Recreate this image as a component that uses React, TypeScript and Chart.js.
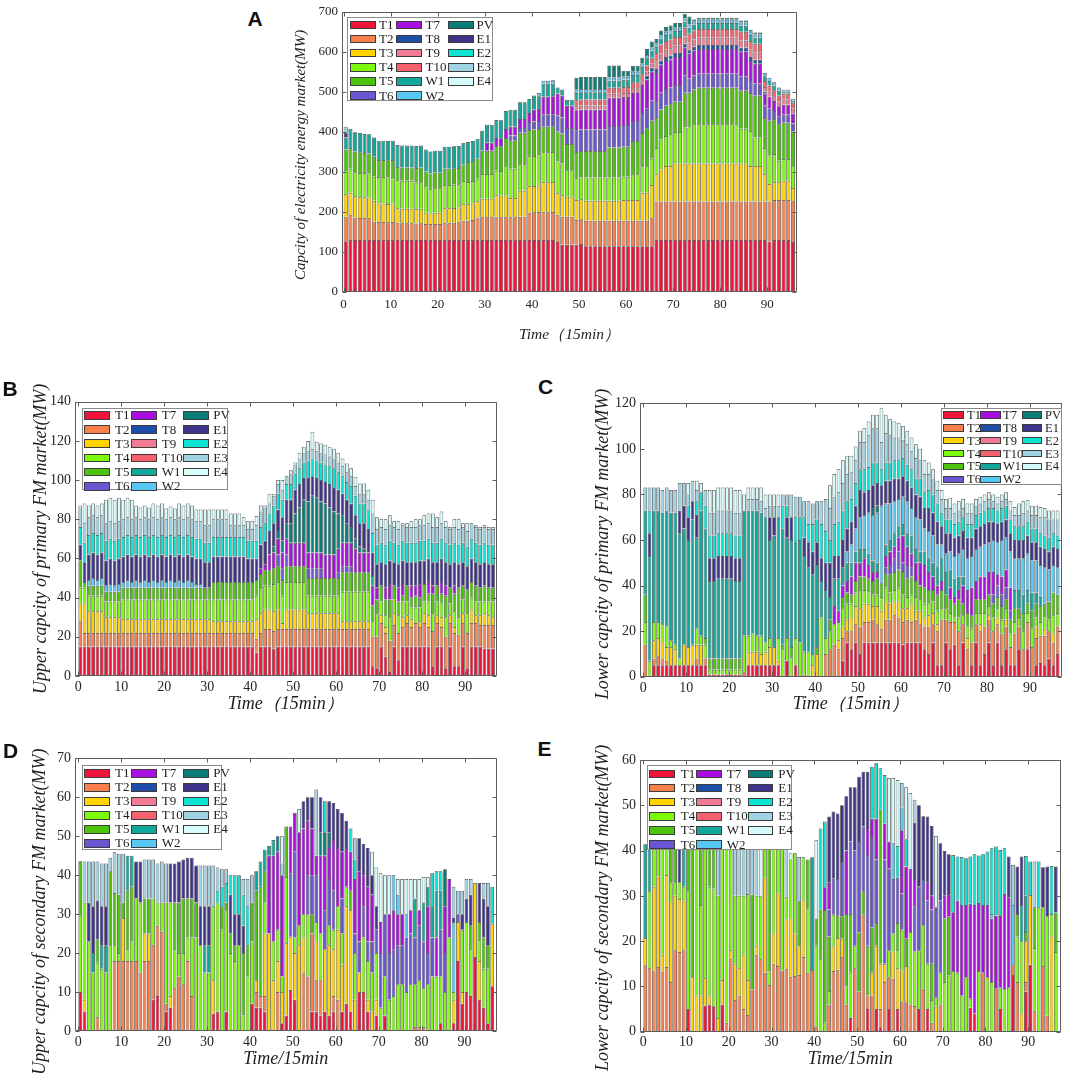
import { useEffect, useRef } from 'react';
import { Chart, registerables } from 'chart.js';

Chart.register(...registerables);

const SERIF = "'Liberation Serif', 'Times New Roman', serif";

const SERIES = ['T1', 'T2', 'T3', 'T4', 'T5', 'T6', 'T7', 'T8', 'T9', 'T10', 'W1', 'W2', 'PV', 'E1', 'E2', 'E3', 'E4'];

const COLORS: Record<string, string> = {
    T1: '#f0143a',
    T2: '#f7804c',
    T3: '#ffd400',
    T4: '#7df90c',
    T5: '#4cc40c',
    T6: '#6a55d2',
    T7: '#a80fe0',
    T8: '#1d4fa8',
    T9: '#f27a94',
    T10: '#f5626e',
    W1: '#12a99d',
    W2: '#56c8f3',
    PV: '#0a7d78',
    E1: '#3e348c',
    E2: '#0de3d3',
    E3: '#9fd3e3',
    E4: '#d6fbfb',
};

const X_TICKS = [0, 10, 20, 30, 40, 50, 60, 70, 80, 90];

// ---------- A: electricity energy market (96 periods) ----------
const A_T1 = [125,130,130,130,130,130,130,130,130,130,
    130,130,130,130,130,130,130,130,130,130,
    130,130,130,130,130,130,130,130,130,130,
    130,130,130,130,130,130,130,130,130,130,
    130,130,130,130,130,125,118,118,118,118,
    120,114,114,114,114,114,114,114,114,114,
    114,114,114,114,114,114,130,130,130,130,
    130,130,130,130,130,130,130,130,130,130,
    130,130,130,130,130,130,130,130,130,130,
    126,130,130,130,130,125];
const A_T2 = [63,62,56,55,55,54,46,45,45,44,
    45,43,42,42,42,41,42,40,40,40,
    40,42,42,43,44,48,48,50,56,57,
    57,57,58,57,57,57,57,58,58,68,
    69,70,69,69,70,68,70,70,70,62,
    62,64,64,64,64,64,64,64,64,64,
    64,64,64,64,64,70,96,96,96,96,
    96,96,96,96,96,96,96,96,96,96,
    96,96,96,96,96,96,96,96,96,96,
    100,100,100,100,100,102];
const A_T3 = [56,56,53,52,52,52,52,46,46,46,
    46,36,36,36,36,36,36,28,26,28,
    28,37,37,37,37,41,41,41,41,46,
    46,46,54,54,54,48,48,65,65,66,
    66,66,75,75,75,54,54,50,50,50,
    50,50,50,50,50,50,50,50,50,52,
    52,52,52,70,70,83,68,80,89,89,
    95,95,95,95,95,95,95,95,95,95,
    95,95,95,95,95,95,89,89,89,68,
    44,44,44,48,48,33];
const A_T4 = [60,60,60,60,60,60,60,66,66,66,
    66,70,70,70,70,66,66,66,61,61,
    61,58,58,58,58,58,56,56,56,62,
    62,62,61,61,73,73,73,66,66,75,
    75,75,75,75,75,79,79,66,66,54,
    54,58,58,58,58,58,58,58,58,58,
    58,64,64,66,66,66,66,75,75,79,
    79,79,90,90,98,98,98,98,98,98,
    98,98,98,98,87,87,87,71,71,66,
    71,71,54,54,54,54];
const A_T5 = [52,52,52,52,50,50,50,43,43,43,
    43,33,33,33,33,37,37,37,39,39,
    39,41,41,41,41,41,50,50,50,58,
    58,58,62,62,71,71,71,79,79,66,
    66,66,64,64,64,75,75,66,66,66,
    66,66,66,66,66,66,75,75,75,75,
    75,83,83,83,95,95,75,75,75,75,
    75,75,87,87,87,91,91,91,91,91,
    91,91,91,91,95,95,95,104,104,75,
    87,87,91,91,91,87];
const A_T6 = [0,0,0,0,0,0,0,0,0,0,
    0,0,0,0,0,0,0,0,0,0,
    0,0,0,0,0,0,0,0,0,0,
    0,0,0,0,0,12,12,12,12,20,
    20,20,30,30,30,40,40,40,40,54,
    54,54,54,54,54,54,54,54,54,54,
    54,50,50,50,50,50,42,42,42,42,
    42,42,42,35,35,35,35,35,35,35,
    35,35,35,35,35,35,30,30,30,30,
    30,20,20,20,20,20];
const A_T7 = [0,0,0,0,0,0,0,0,0,0,
    0,0,0,0,0,0,0,0,0,0,
    0,0,0,0,0,0,0,0,0,0,
    20,20,20,20,22,22,22,22,22,22,
    30,30,45,45,45,55,55,55,55,50,
    50,50,50,50,50,50,70,70,70,70,
    70,72,72,72,72,72,70,70,70,70,
    70,70,70,62,62,62,62,62,62,62,
    62,62,62,62,62,62,50,50,50,30,
    30,25,25,25,25,25];
const A_T8 = [0,0,0,0,0,0,0,0,0,0,
    0,0,0,0,0,0,0,0,0,0,
    0,0,0,0,0,0,0,0,0,0,
    0,0,0,0,0,0,0,0,0,0,
    0,0,0,0,0,0,0,0,0,0,
    0,0,0,0,0,0,0,0,0,0,
    0,0,0,0,10,10,10,10,10,10,
    10,10,10,10,10,10,10,10,10,10,
    10,10,10,10,10,10,10,10,10,5,
    0,0,0,0,0,0];
const A_T9 = [0,0,0,0,0,0,0,0,0,0,
    0,0,0,0,0,0,0,0,0,0,
    0,0,0,0,0,0,0,0,0,0,
    0,0,0,0,0,0,0,0,0,0,
    0,0,0,0,0,0,0,0,0,10,
    10,10,10,10,10,10,10,10,10,10,
    10,10,10,10,10,10,18,18,18,18,
    18,18,18,18,18,18,18,18,18,18,
    18,18,18,18,18,18,18,18,18,12,
    12,12,12,12,12,12];
const A_T10 = [0,0,0,0,0,0,0,0,0,0,
    0,0,0,0,0,0,0,0,0,0,
    0,0,0,0,0,0,0,0,0,0,
    0,0,0,0,0,0,0,0,0,0,
    0,0,0,0,0,0,0,0,0,15,
    15,15,15,15,15,15,15,15,15,15,
    15,15,15,15,15,15,22,22,22,22,
    22,22,22,22,22,22,22,22,22,22,
    22,22,22,22,22,22,22,22,22,15,
    15,15,15,15,15,15];
const A_W1 = [30,48,48,48,48,48,48,48,48,48,
    48,55,55,55,55,55,55,55,55,55,
    55,55,55,55,55,55,50,50,50,50,
    45,45,45,45,45,42,42,42,42,35,
    35,32,32,32,32,15,15,15,15,18,
    18,18,18,18,18,18,18,18,18,18,
    18,18,18,18,18,18,15,15,15,15,
    15,15,15,15,15,15,15,15,15,15,
    15,15,15,15,15,15,15,15,15,12,
    12,12,12,5,5,5];
const A_W2 = [0,0,0,0,0,0,0,0,0,0,
    0,0,0,0,0,0,0,0,0,0,
    0,0,0,0,0,0,0,0,0,0,
    0,0,0,0,0,0,0,0,0,0,
    0,8,8,8,8,0,0,0,0,8,
    8,8,8,8,8,8,8,8,8,8,
    8,8,8,8,8,8,8,8,8,8,
    8,8,8,8,8,8,8,8,8,8,
    8,8,8,8,8,8,8,8,8,8,
    8,8,8,5,5,5];
const A_PV = [0,0,0,0,0,0,0,0,0,0,
    0,0,0,0,0,0,0,0,0,0,
    0,0,0,0,0,0,0,0,0,0,
    0,0,0,0,0,0,0,0,0,0,
    0,0,0,0,0,0,0,0,0,30,
    30,30,30,30,30,30,30,30,30,15,
    15,15,15,15,15,15,12,12,12,12,
    12,12,12,20,5,5,5,5,5,5,
    5,5,5,5,5,5,5,5,5,0,
    0,0,0,0,0,0];
const A_E1 = [12,0,0,0,0,0,0,0,0,0,
    0,0,0,0,0,0,0,0,0,0,
    0,0,0,0,0,0,0,0,0,0,
    0,0,0,0,0,0,0,0,0,0,
    0,0,0,0,0,0,0,0,0,0,
    0,0,0,0,0,0,0,0,0,0,
    0,0,0,0,0,0,0,0,0,0,
    0,0,0,0,0,0,0,0,0,0,
    0,0,0,0,0,0,0,0,0,0,
    0,0,0,0,0,0];
const A_E3 = [15,0,0,0,0,0,0,0,0,0,
    0,0,0,0,0,0,0,0,0,0,
    0,0,0,0,0,0,0,0,0,0,
    0,0,0,0,0,0,0,0,0,0,
    0,0,0,0,0,0,0,0,0,0,
    0,0,0,0,0,0,0,0,0,0,
    0,0,0,0,0,0,0,0,0,0,
    0,0,0,0,0,0,0,0,0,0,
    0,0,0,0,0,0,0,0,0,0,
    0,0,0,0,0,0];

// ---------- B: upper capacity, primary FM market (97 periods) ----------
const B_T1 = [15,15,15,15,15,15,15,15,15,15,
    15,15,15,15,15,15,15,15,15,15,
    15,15,15,15,15,15,15,15,15,15,
    15,15,15,15,15,15,15,15,15,15,
    15,12,15,15,15,14,15,15,15,15,
    15,15,15,15,15,15,15,15,15,15,
    15,15,15,15,15,15,15,15,5,4,
    15,10,2,15,8,15,15,15,15,15,
    15,15,5,15,15,4,15,5,5,15,
    4,15,15,15,14,14,14];
const B_T2 = [13,7,7,7,7,7,7,7,7,7,
    7,7,7,7,7,7,7,7,7,7,
    7,7,7,7,7,7,7,7,7,7,
    7,7,7,7,7,7,7,7,7,7,
    7,7,7,9,9,9,9,9,9,9,
    9,9,9,9,9,9,9,9,9,9,
    9,9,9,9,9,9,9,9,15,16,
    12,12,16,11,14,10,12,10,12,10,
    12,10,18,12,10,16,12,17,16,12,
    18,12,12,11,12,12,12];
const B_T3 = [9,15,11,11,11,11,8,8,8,8,
    7,7,7,7,7,7,7,7,7,7,
    7,7,7,7,7,7,7,7,7,7,
    7,6,6,6,6,6,6,6,6,6,
    6,10,10,10,10,10,10,3,10,10,
    10,10,10,8,8,8,8,8,8,8,
    8,4,4,4,4,4,4,4,0,0,
    4,3,0,6,0,5,4,4,0,3,
    5,6,0,4,5,0,4,3,0,5,
    0,7,4,5,6,5,4];
const B_T4 = [8,8,8,8,8,8,8,8,8,8,
    10,10,10,10,10,10,10,10,10,10,
    10,10,10,10,10,10,10,10,10,10,
    10,11,11,11,11,11,11,11,11,11,
    11,12,12,12,12,14,14,14,14,14,
    14,14,14,9,9,9,9,9,9,9,
    9,15,15,15,15,15,15,15,8,12,
    7,6,12,7,9,8,7,6,8,7,
    6,7,9,7,7,10,6,8,9,7,
    10,6,7,7,6,7,8];
const B_T5 = [14,3,5,5,5,5,5,5,5,5,
    6,6,6,6,6,6,6,6,6,6,
    6,6,6,6,6,6,6,6,6,6,
    6,9,9,9,9,9,9,9,9,9,
    9,8,8,8,8,8,8,8,8,8,
    8,8,8,9,9,9,9,9,9,9,
    9,10,10,10,10,10,10,10,8,7,
    8,8,9,7,7,3,8,5,6,5,
    9,4,10,8,5,11,8,9,15,7,
    12,8,8,7,8,7,7];
const B_T6 = [0,0,0,0,0,0,0,0,0,0,
    0,0,0,0,0,0,0,0,0,0,
    0,0,0,0,0,0,0,0,0,0,
    0,0,0,0,0,0,0,0,0,0,
    0,0,0,0,0,0,6,6,6,0,
    0,0,0,5,5,5,5,0,0,0,
    3,3,3,3,0,0,0,0,0,0,
    0,0,0,0,0,0,0,0,0,0,
    0,0,0,0,0,0,0,0,0,0,
    0,0,0,0,0,0,0];
const B_T7 = [0,0,0,0,0,0,0,0,0,0,
    0,0,0,0,0,0,0,0,0,0,
    0,0,0,0,0,0,0,0,0,0,
    0,0,0,0,0,0,0,0,0,0,
    0,0,3,3,8,8,8,8,8,12,
    12,12,12,8,8,8,8,12,12,12,
    12,12,12,12,12,10,10,10,10,6,
    0,6,8,0,7,6,0,6,5,7,
    0,6,4,0,6,5,0,4,0,0,
    0,0,0,0,0,0,0];
const B_W1 = [0,0,0,0,0,0,0,0,0,0,
    0,0,0,0,0,0,0,0,0,0,
    0,0,0,0,0,0,0,0,0,0,
    0,0,0,0,0,0,0,0,0,0,
    0,0,0,0,0,0,0,0,0,0,
    0,0,0,0,0,0,0,0,0,0,
    0,0,0,0,0,0,0,0,5,0,
    0,0,0,0,0,0,0,0,0,0,
    0,0,0,0,0,0,0,0,0,0,
    0,0,0,0,0,0,0];
const B_W2 = [0,0,3,4,3,4,3,4,3,4,
    3,4,3,4,3,4,3,4,3,4,
    3,4,3,4,3,4,3,2,2,0,
    0,0,0,0,0,0,0,0,0,0,
    0,0,0,0,0,0,0,0,0,0,
    0,0,0,0,0,0,0,0,0,0,
    0,0,0,0,0,0,0,0,0,0,
    0,0,0,0,0,0,0,0,0,0,
    0,0,0,0,0,0,0,0,0,0,
    0,0,0,0,0,0,0];
const B_PV = [0,0,0,0,0,0,0,0,0,0,
    0,0,0,0,0,0,0,0,0,0,
    0,0,0,0,0,0,0,0,0,0,
    0,0,0,0,0,0,0,0,0,0,
    0,0,0,0,0,3,4,6,8,10,
    15,18,22,26,29,28,26,26,24,22,
    18,14,10,8,5,3,2,0,0,0,
    0,0,0,0,0,0,0,0,0,0,
    0,0,0,0,0,0,0,0,0,0,
    0,0,0,0,0,0,0];
const B_E1 = [8,10,13,13,13,13,13,13,13,13,
    13,13,13,13,13,13,13,13,13,13,
    13,13,13,13,13,13,13,13,13,13,
    13,13,13,13,13,13,13,13,13,12,
    12,11,12,12,12,12,11,12,12,12,
    12,12,11,12,10,10,11,11,12,12,
    12,11,12,12,12,12,13,12,12,12,
    12,12,12,12,12,12,12,12,12,12,
    12,12,12,12,12,12,12,12,12,12,
    12,12,12,12,12,12,12];
const B_E2 = [9,10,10,10,10,10,10,10,10,10,
    10,10,10,10,10,10,10,10,10,10,
    10,10,10,10,10,10,10,10,10,10,
    10,10,10,10,10,10,10,10,10,9,
    9,9,9,9,9,9,8,9,8,8,
    8,8,8,9,9,9,9,9,9,10,
    9,9,9,9,10,10,10,10,10,10,
    10,10,10,10,10,10,10,10,10,10,
    10,10,10,10,10,10,10,10,10,10,
    10,10,10,10,10,10,10];
const B_E3 = [10,10,9,9,9,9,9,9,9,9,
    9,9,9,9,9,9,9,9,9,9,
    9,9,9,9,9,9,9,9,9,9,
    9,9,9,9,9,6,6,6,6,6,
    6,8,8,8,5,5,5,5,4,5,
    5,5,5,5,5,5,5,5,5,5,
    5,5,5,5,5,5,5,5,10,8,
    8,8,8,8,8,8,8,8,8,8,
    8,8,8,8,8,8,8,8,8,8,
    8,8,8,8,8,8,8];
const B_E4 = [1,10,6,6,6,6,12,12,12,12,
    10,10,10,6,6,6,6,7,7,7,
    5.5,5.5,5.5,7,7,7,7,6,6,8,
    8,5,5,5,5,6,6,6,4,4,
    4,4.6,3,1,5,1,2,5,0,2,
    1,3,3,5,8.7,4.6,4.7,5,5,5,
    5,4,4.5,4,4.7,5.3,5.3,5,7,6,
    4,5,5,3,4,1,2,3,4,3,
    5,5,7,5,6,3,1,4,5,2,
    4,0,1,1,1,1,1];

// ---------- C: lower capacity, primary FM market ----------
const C_T1 = [0,0,5,5,5,5,5,5,5,5,
    5,5,5,5,5,1,1,1,1,1,
    1,1,1,0,5,5,5,5,5,5,
    5,5,0,7,0,5,0,0,0,0,
    0,0,0,0,0,0,7,15,12,15,
    10,15,15,15,15,15,15,15,15,15,
    14,15,15,15,15,12,10,15,5,5,
    15,12,14,5,15,0,5,15,5,10,
    15,5,15,5,12,5,5,12,0,12,
    0,5,6,5,8,5,10];
const C_T2 = [14,0,3,4,3,2,0,0,0,0,
    0,0,3,0,3,0,0,0,0,0,
    0,0,0,2,0,0,0,0,0,0,
    0,0,0,0,0,0,0,1,0,0,
    0,0,10,12,14,12,10,5,8,8,
    12,9,9,10,8,6,10,10,12,11,
    10,10,9,10,8,10,12,8,15,20,
    10,12,10,15,8,12,10,8,15,12,
    10,15,8,14,10,8,14,10,12,12,
    13,12,12,13,12,10,12];
const C_T3 = [0,0,8,8,7,6,8,7,0,9,
    8,9,6,9,0,0,0,0,0,0,
    0,0,0,0,6,6,6,5,6,8,
    8,2,0,0,0,0,0,0,0,5,
    10,0,0,0,0,4,5,5,6,8,
    8,8,8,6,8,8,8,7,6,7,
    6,5,8,4,6,4,5,5,3,0,
    0,0,0,0,0,5,0,0,3,0,
    2,0,3,0,3,0,0,0,0,0,
    0,5,0,3,0,4,0];
const C_T4 = [10,7,8,7,8,9,3,2,3,0,
    0,0,7,4,6,2,2,2,2,2,
    2,2,2,16,7,8,7,8,4,4,
    0,10,12,10,8,12,15,10,11,5,
    0,26,7,8,9,8,8,7,6,6,
    8,6,5,5,5,6,6,5,5,6,
    6,5,4,6,5,6,5,5,6,5,
    5,4,2,6,4,5,6,5,5,6,
    4,6,4,6,4,6,5,3,8,4,
    8,4,6,5,5,8,6];
const C_T5 = [12,0,0,0,0,0,0,0,0,0,
    0,0,0,0,3,5,5,5,5,5,
    5,5,5,0,0,0,0,0,0,0,
    0,0,2,0,5,0,0,0,0,0,
    3,0,0,5,0,0,5,5,4,5,
    6,6,6,6,7,6,6,8,8,8,
    10,8,8,7,6,7,6,5,7,8,
    6,6,6,8,5,6,6,6,6,6,
    5,6,5,6,5,6,6,5,8,4,
    8,6,7,6,8,10,8];
const C_T6 = [0,0,0,0,0,0,0,0,0,0,
    0,0,0,0,0,0,0,0,0,0,
    0,0,0,0,0,0,0,0,0,0,
    0,0,0,0,0,0,0,0,0,0,
    0,0,0,0,0,0,0,0,0,0,
    0,0,0,0,0,0,3,4,6,8,
    4,6,4,0,0,0,0,0,0,0,
    0,0,0,0,0,0,0,0,0,0,
    0,4,5,5,5,4,0,0,0,0,
    0,0,0,0,0,0,0];
const C_T7 = [0,0,0,0,0,0,0,0,0,0,
    0,0,0,0,0,0,0,0,0,0,
    0,0,0,0,0,0,0,0,0,0,
    0,0,0,0,0,0,0,0,0,0,
    0,0,0,0,8,5,5,5,8,8,
    6,8,6,4,3,0,5,6,5,6,
    12,8,6,8,10,10,8,6,4,4,
    0,5,3,4,8,10,12,8,10,10,
    10,10,5,8,8,10,0,0,0,0,
    0,0,0,0,0,0,0];
const C_W1 = [37,46,49,49,49,51,56,58,55,51,
    47,55,40,55,48,34,34,35,35,35,
    35,34,34,55,55,54,55,54,55,43,
    49,53,51,44,47,42,45,42,37,35,
    36,16,21,10,12,14,8,8,6,5,
    6,4,5,5,4,0,5,5,6,5,
    5,6,8,6,5,6,6,6,8,10,
    10,8,8,6,4,0,0,0,0,0,
    0,0,0,0,0,0,8,8,8,6,
    8,5,4,0,0,0,0];
const C_W2 = [0,0,0,0,0,0,0,0,0,0,
    0,0,0,0,0,0,0,0,0,0,
    0,0,0,0,0,0,0,0,0,0,
    0,0,0,0,0,0,0,0,0,0,
    0,0,0,0,0,0,0,5,8,10,
    14,15,18,20,22,34,18,16,14,12,
    12,14,12,14,14,10,12,12,10,6,
    8,8,10,10,12,14,14,14,13,14,
    13,14,14,16,14,16,14,14,16,16,
    14,14,14,16,14,12,12];
const C_PV = [0,0,0,0,0,0,0,0,0,0,
    0,0,0,0,0,0,0,0,0,0,
    0,0,0,0,0,0,0,0,0,0,
    0,0,0,0,0,0,0,0,0,0,
    0,0,0,0,0,0,0,0,0,0,
    0,0,0,3,3,0,0,0,0,0,
    0,0,0,0,0,0,0,0,0,0,
    0,0,0,0,0,0,0,0,0,0,
    0,0,0,0,0,0,0,0,0,0,
    0,0,0,0,0,0,0];
const C_E1 = [0,10,0,0,0,0,0,0,10,10,
    10,8,10,0,0,10,10,10,10,10,
    10,10,10,0,0,0,0,0,0,10,
    8,0,0,9,10,0,0,8,11,10,
    10,10,12,15,10,10,12,10,10,10,
    12,10,10,10,10,9,10,10,10,9,
    9,9,9,10,10,9,10,10,10,8,
    9,8,8,8,8,9,8,9,9,9,
    9,8,8,8,8,8,8,8,8,8,
    8,8,8,8,8,8,8];
const C_E2 = [0,10,0,0,0,0,0,0,0,0,
    5,0,6,8,10,10,10,10,10,10,
    10,10,10,0,0,0,0,0,0,0,
    0,0,10,5,0,11,10,9,8,12,
    10,15,14,10,14,15,13,12,10,10,
    9,10,10,10,9,7,8,8,8,8,
    8,7,8,7,8,7,8,8,8,6,
    6,6,6,6,6,6,6,6,6,6,
    6,6,6,6,6,6,6,6,6,6,
    6,6,6,6,6,6,6];
const C_E3 = [10,10,10,10,10,10,10,10,12,10,
    5,9,5,0,7,10,10,10,10,10,
    10,10,10,0,5,5,5,5,4,5,
    5,5,5,5,10,9,9,7,10,9,
    8,10,14,14,12,13,12,12,12,10,
    12,12,14,15,15,12,13,12,10,10,
    8,9,8,9,8,8,7,7,6,6,
    5,5,5,5,4,5,5,4,4,4,
    4,3,3,3,3,4,5,5,6,5,
    6,6,7,8,8,6,7];
const C_E4 = [0,0,0,0,0,0,0,0,0,0,
    5,0,4,4,0,10,10,10,10,10,
    10,10,10,7,5,5,5,6,6,5,
    5,5,0,0,0,0,0,0,0,0,
    0,0,0,10,10,10,10,8,7,6,
    5,6,6,6,6,15,8,7,7,6.5,
    6,6,6,6,5,6,5,4,4,4,
    4,4.5,4,4,4,4,4,3,3,3,
    3,3,3,3,3,4,3.5,5,5,4.5,
    4,4,4.5,4,4,4,4];

// ---------- D: upper capacity, secondary FM market ----------
const D_T1 = [10,5,0,0,0,0,0,0,0,0,
    0,0,0,0,0,0,0,8,9,0,
    5,6,0,0,0,0,0,0,0,0,
    0,4.5,5,0,5,0,0,0,0,0,
    7,6,6,5,0,0,0,2,4,10.5,
    8,0,0,0,5,5,4,5,4,5,
    0,5,7,5,0,10,10,5,0,4,
    0,4,0,0,0,0,0,0,0,0,
    0,0,0,0,2,0,0,2,18,7,
    10,9,19,8,6,2,11.5];
const D_T2 = [0,0,0,0,3.5,0,0,0,18,18,
    18,18,18,18,15,18,18,14,18,25.5,
    2,0,11,14,12,18,9,0,0,0,
    0,0,0,0,0,0,0,0,0,0,
    0,4,3,4,0,0,10,0,0,0,
    0,0,15,14,20,8,9,0,0,4,
    8,0,0,0,0,0,0,0,0,0,
    0,0,0,0,0,0,0,0,1,1,
    1,0,0,0,0,0,0,0,0,0,
    0,0,0,0,0,0,0];
const D_T3 = [0,3,0,0,0,0,0,0,0,0,
    11,0,0,0,0,7,7,0,0,0,
    0,3,0,0,0,0,0,0,0,0,
    0,8.5,0,0,0,0,0,0,0,0,
    0,3,0,16,25,13,8,8,18.5,13.7,
    12,22,9,0,0,10,0,16,18,12,
    18,12,25,26,8,5,0,3,5,4,
    0,0,0,0,0,0,0,0,0,0,
    0,0,0,0,0,0,0,6,10,3,
    0,0,19,10,0,0,16];
const D_T4 = [19.6,25,23,15,14,16,15,22,4,2,
    0,3,5,16,18,0,0,12,6,7.5,
    26,24,10,6,8,6,15,24,22,15,
    15,19,28,26,26,20,18,22,4,14,
    16,0,0,8,0,10,8,4,17,0,
    4,5,6,16,0,5,12,0,5,5,
    6,8,5,0,12,0,14,10,10,12,
    6,10,8,9,12,12,10,12,11,12,
    10,12,14,14,12,10,24,2,0,16,
    18,12,0,5,10,14,0];
const D_T5 = [14,0,0,0,6,0,0,19,13.4,15,
    4,15,14,0,0,9,9,0,0,0,
    0,0,12,13,14,10,10,9,0,0,
    0,0,0,6,2,5,4,0,16,8,
    10,23,28,8,0,0,0,0,13,0,
    0,0,0,0,5,0,0,0,0,0,
    0,0,0,5,0,0,0,0,0,0,
    0,0,0,0,0,0,0,0,0,0,
    0,0,0,0,0,0,0,0,0,0,
    0,6,0,5,8,6,0];
const D_T6 = [0,0,0,0,0,0,0,0,0,0,
    0,0,0,0,0,0,0,0,0,0,
    0,0,0,0,0,0,0,0,0,0,
    0,0,0,0,0,0,0,0,0,0,
    0,0,0,0,0,0,0,0,0,16.3,
    22,0,0,10,10,12,0,10,12,10,
    0,9,0,0,5,8,8,5,8,6,
    14,16,12,12,10,10,14,13,12,14,
    12,8,10,0,12,10,0,0,2,0,
    0,0,0,0,0,0,0];
const D_T7 = [0,0,0,0,0,0,0,0,0,0,
    0,0,0,0,0,0,0,0,0,0,
    0,0,0,0,0,0,0,0,0,0,
    0,0,0,0,0,0,0,0,0,0,
    0,0,0,0,20,22,20,26,0,12,
    10,24,22,14,12,5,20,14,8,13,
    15,12,10,10,14,18,8,14,12,0,
    8,0,10,10,8,8,0,6,0,4,
    0,12,0,10,0,12,15,0,0,0,
    0,0,0,0,0,0,0];
const D_W1 = [0,0,0,5,0,6,7,0,0,0,
    0,9,8,0,0,0,0,0,0,0,
    0,0,0,0,0,0,0,0,0,7,
    7,0,0,0,0,0,0,0,0,0,
    0,5,6.5,5.5,2.5,4,0,0,0,0,
    0,0,0,0,0,0,0,0,0,0,
    0,0,0,0,0,0,0,0,0,0,
    0,0,0,0,0,0,0,0,10,0,
    10,5,8,12,10,0,0,0,0,0,
    0,0,0,0,0,0,0];
const D_W2 = [0,0,0,0,0,0,0,0,0,0,
    0,0,0,0,0,0,0,0,0,0,
    0,0,0,0,0,0,0,0,0,0,
    0,0,0,0,0,0,0,0,0,0,
    0,0,0,0,0,0,0,0,0,0,
    0,0,0,0,0,0,0,0,0,0,
    0,0,0,0,0,0,0,0,0,0,
    0,0,0,9,5,0,6,0,0,0,
    0,0,0,0,0,0,0,18,0,0,
    0,0,0,0,0,0,0];
const D_PV = [0,0,0,0,0,0,0,0,0,0,
    0,0,0,0,0,0,0,0,0,0,
    0,0,0,0,0,0,0,0,0,0,
    0,0,0,0,0,0,0,0,0,0,
    0,0,0,0,0,0,4,0,0,0,
    0,0,0,0,0,0,6,6,4,0,
    0,0,0,0,0,0,0,0,0,0,
    0,0,0,0,0,0,0,0,0,0,
    0,0,0,0,0,9.5,0,0,0,0,
    0,0,0,0,0,0,0];
const D_E1 = [0,0,10,12,10,10,10,0,0,0,
    0,0,0,9.5,10.5,0,0,0,0,0,
    0,10,10,10.5,10,10.5,10.5,9.5,10,10,
    10,0,0,0,0,10,8,8,7,0,
    0,0,0,0,0,0,0,0,0,0,
    0,0,7,6,8,0,9,0,8,9.5,
    10,10,7,0,0,8.5,8,10,5,6,
    0,0,0,0,0,0,0,0,0,0,
    0,0,0,0,0,0,0,1,0,4,
    6,8,0,10,10,10,0];
const D_E2 = [0,0,0,0,0,0,0,0,0,0,
    0,0,0,0,0,0,0,0,0,0,
    0,0,0,0,0,0,0,0,0,0,
    0,0,3,5,5,5,10,10,8,10,
    0,0,0,0,0,0,0,0,0,0,
    0,0,0,0,0,0,0,8,0,0,
    0,0,0,6,5,0,0,0,0,0,
    0,0,0,0,0,0,0,0,0,0,
    0,0,8.5,5,5,0,0,0,0,0,
    0,0,0,0,0,0,9.5];
const D_E3 = [0,10.5,10.5,11.5,10,11,11,3.5,10.5,10.5,
    12.5,0,0,0,0,10,10,10,10,10.5,
    10,0,0,0,0,0,0,0,10.5,10.5,
    10.5,10.5,6,4.5,3.5,0,0,0,4,7,
    7,0,0,0,0,0,0,3,0,0,
    0,0,0,0,0,17,0,0,0,0,
    0,0,0,0,5.5,0,0,0,0,0,
    0,0,0,0,0,0,0,0,0,0,
    0,0,0,0,0,0,0,8,6,6,
    5,4,0,0,4,6,0];
const D_E4 = [0,0,0,0,0,0,0,0,0,0,
    0,0,0,0,0,0,0,0,0,0,
    0,0,0,0,0,0,0,0,0,0,
    0,0,0,0,0,0,0,0,0,0,
    0,0,0,0,0,0,0,7,0,0,
    0,6,0,0,0,0,0,0,0,0,
    0,0,0,0,0,0,0,0,6,10,
    12.5,10,10,0,4,9,9,8,5,8,
    6.5,2.5,0,0,0,0,0,0,0,0,
    0,0,0,0,0,0,0];

// ---------- E: lower capacity, secondary FM market ----------
const E_T1 = [0,0,0,0,0,0,0,0,0,0,
    5,0,0,0,5.8,6,5.6,0,6,0,
    0,0,0,0,0,0,0,0,0,0,
    0,0,0,0,0,0,0,0,0,0,
    0,0,0,0,0,0,0,0,3,0,
    0,0,5,0,5,1,0,5,0,5,
    0,0,0,0,5,0,5,0,0,0,
    0,0,0,0,0,0,5.3,4,0,0,
    0,0,0,5,0,0,12.5,0,0,8.8,
    14.8,0,0,0,0,0,0];
const E_T2 = [14.7,14,13.5,14.3,13.3,14.3,11,18,17.6,18,
    0,0,0,0,0,0,0,0,0,2,
    16,7,8,5,3.7,9.3,17,16,13,10.3,
    15,14.5,13.5,13.8,12,12.3,12.5,16.5,13,13.6,
    1,0,0,6,13.4,13.7,16.5,6,0,14,
    8.9,25.8,3,8,0,4,11,7,11.7,0,
    6.5,6.5,6,5.7,0,9.5,0,2,0,6,
    0,0,0,0,0,0,0,0,0,13,
    0,0,9.6,0,0,0,2.2,11,0,2.2,
    0,4.5,0,14.5,3.5,0,0];
const E_T3 = [6,0,18.5,20,3.7,20.3,17.7,12,11.7,11,
    0,12,8,8,6,2,0,3,5.4,0,
    2,8,6,12,7.7,0,2,0,21,0,
    6.7,16,0,11,13,9.4,6.3,12.5,0,0,
    0,0,0,0,5.4,7,4,0,0,0,
    0,0,0,5,14,10,4,0,6,9,
    7,8,0,0,0,0,0,0,5.5,0,
    0,0,0,0,0,0,0,0,0,0,
    0,0,0,0,0,0,0,0,4,9,
    15.4,0,0,0,0,21,0];
const E_T4 = [0,17,10,8,25,8,4.3,3,3.7,3,
    26,0,34,20,30,24,26,27,31,40,
    24,15,16,13,19,0,11,14,8,3,
    20,11.5,28.5,5,13,17.7,0,9.5,14,0,
    18,16,2,3,7,0,0,4,10,5,
    0,0,0,0,0,0,0,6,4,4,
    9,0,16,12,13,14,10,5,2,7,
    11,12.4,13.4,13,8,12,2,0,13.4,0,
    12,11,0,4.7,9.4,9.7,0,10,16,0,
    0,14,27.5,13,22,5,17.6];
const E_T5 = [0,0,0,0,0,0,9,9,0,0,
    11,30,0,14,0,10,10,0,0,0,
    0,0,0,0,0,21,0,0,0,28.7,
    0,0,0,0,0,0,10,0,11,0,
    6,11,24.9,12,0,5,5,16,13,0,
    13,5.2,11,10,5,34,0,0,0,6,
    0,6,0,0,0,0,0,8,0,0,
    14,13,0,0,0,0,0,0,0,0,
    0,0,0,0,0,0,0,5,0,2,
    0,9,0,0,0,0,8.7];
const E_T6 = [0,0,0,0,0,0,0,0,0,0,
    0,0,0,0,0,0,0,0,0,0,
    0,0,0,0,0,0,0,0,0,0,
    0,0,0,0,0,0,0,0,0,0,
    0,0,0,6,8,8,12,0,16,21,
    20,14.3,20,20,14,0,23,18,12,10,
    8,0,0,10,14,10,14,12,20,16,
    0,0,0,0,0,0,0,0,0,0,
    0,0,0,0,0,0,0,0,0,0,
    0,0,0,0,0,0,0];
const E_T7 = [0,0,0,0,0,0,0,0,0,0,
    0,0,0,0,0,0,0,0,0,0,
    0,0,0,0,0,0,0,0,0,0,
    0,0,0,0,0,0,0,0,0,0,
    0,0,5,6,0,0,0,14,0,0,
    0,0,6,4,9,0,8,6,0,0,
    14,16,14,6,0,0,4,3,0,0,
    5,5,13,16,20,16,21,24,15,15,
    16,14,16,16,21,20,0,0,0,0,
    0,0,0,0,0,0,0];
const E_W1 = [20.7,11,0,0,0,0,0,0,0,10,
    0,0,0,0,0,0,0,0,0,0,
    0,0,0,0,0,0,0,0,0,0,
    0,0,0,0,0,0,0,0,0,24.9,
    0,0,0,0,0,0,0,0,0,0,
    0,0,0,0,0,0,0,0,0,0,
    0,0,0,0,0,0,0,0,0,0,
    0,0,0,0,0,0,0,0,0,0,
    0,0,0,0,0,0,0,0,8,8,
    0,0,0,0,0,0,0];
const E_W2 = [0,0,0,0,0,0,0,0,0,0,
    0,0,0,0,0,0,0,0,0,0,
    0,0,0,0,0,0,0,0,0,0,
    0,0,0,0,0,0,0,0,0,0,
    0,0,0,0,0,0,0,0,0,0,
    0,0,0,0,0,0,0,0,8,0,
    5,0,0,0,0,0,0,0,0,0,
    0,0,0,0,0,0,0,0,0,0,
    0,1,0,0,0,0,13.3,0,0,0,
    0,0,0,0,0,0,0];
const E_E1 = [0,0,0,0,0,0,0,0,9,0,
    0,0,0,0,0,0,0,0,0,0,
    0,0,0,0,0,0,0,0,0,0,
    0,0,0,0,0,0,0,0,0,0,
    0,0,0,14.5,14.8,14.5,12.5,12,12,14,
    14.4,12.1,12.4,0,0,0,0,0,0,0,
    0,0,0,12.5,18,14.1,14.5,15.4,0,12.6,
    9.9,8.8,0,0,0,0,0,0,0,0,
    0,0,0,0,0,9,0,10.5,10.7,0,
    0,0,0,8.8,11,0,10.2];
const E_E2 = [0,0,0,0,0,0,0,0,0,0,
    0,0,0,0,0,0,0,0,0,0,
    0,0,0,0,0,0,0,0,0,0,
    0,0,0,0,0,0,0,0,0,0,
    0,17.9,14.5,0,0,0,0,0,0,0,
    0,0,0,11.5,12.3,9.2,10.7,0,0,7,
    0,6,0,0,0,0,0,0,0,0,
    0,0,12.6,9.7,10.6,10.3,10.4,11.2,10.5,11.2,
    11.8,14.5,15.3,14.4,10.1,0,0,0,0,8.8,
    7.4,0,10.1,0,0,10.6,0];
const E_E3 = [0,0,0,0,0,0,0,0,0,0,
    0,0,0,0,0,0,0,12,0,0,
    0,12,12,12,12,12,12,0,0,0,
    0,0,0,12,0,0,9.8,0,0,0,
    0,0,0,0,0,0,0,0,0,0,
    0,0,0,0,0,0,0,0,0,0,
    5.4,0,0,5,0,0,0,0,0,0,
    0,0,0,0,0,0,0,0,0,0,
    0,0,0,0,0,0,8.8,0,0,0,
    0,10.1,0,0,0,0,0];
const E_E4 = [0,0,0,0,0,0,0,0,0,0,
    0,0,0,0,0,0,0,0,0,0,
    0,0,0,0,0,0,0,12,0,0,
    0,0,0,0,1.5,0,0,0,0,0,
    17.3,0,0,0,0,0,0,0,0,0,
    0,0,0,0,0,0,0,14,14.3,14.6,
    0,11.5,16.7,0,0,0,0,0,15.7,0,
    0,0,0,0,0,0,0,0,0,0,
    0,0,0,0,0,0,0,0,0,0,
    0,0,0,0,0,0,0];

type Panel = {
    key: string;
    series: Record<string, number[]>;
    canvas: [number, number, number, number];
    padTop: number;
    padRight: number;
    yWidth: number;
    xHeight: number;
    xMin: number;
    xMax: number;
    yMax: number;
    yStep: number;
    tickSize: number;
    xTickPad: number;
    xTitle: string;
    xTitleSize: number;
    xTitlePad: number;
    yTitle: string;
    yTitleSize: number;
    yTitleX: number;
    yTitleDy: number;
};

const PANELS: Panel[] = [
    {
        key: 'A',
        series: { T1: A_T1, T2: A_T2, T3: A_T3, T4: A_T4, T5: A_T5, T6: A_T6, T7: A_T7, T8: A_T8, T9: A_T9, T10: A_T10, W1: A_W1, W2: A_W2, PV: A_PV, E1: A_E1, E3: A_E3 },
        canvas: [282, 0, 530, 350], padTop: 11, padRight: 15, yWidth: 60, xHeight: 58,
        xMin: -0.34, xMax: 96.3, yMax: 700, yStep: 100, tickSize: 13, xTickPad: 5,
        xTitle: 'Time（15min）', xTitleSize: 15.5, xTitlePad: 5.7,
        yTitle: 'Capcity of electricity energy market(MW)', yTitleSize: 15, yTitleX: 19, yTitleDy: 3,
    },
    {
        key: 'B',
        series: { T1: B_T1, T2: B_T2, T3: B_T3, T4: B_T4, T5: B_T5, T6: B_T6, T7: B_T7, W1: B_W1, W2: B_W2, PV: B_PV, E1: B_E1, E2: B_E2, E3: B_E3, E4: B_E4 },
        canvas: [0, 362, 510, 358], padTop: 39.7, padRight: 13.3, yWidth: 75, xHeight: 44,
        xMin: -0.77, xMax: 97.3, yMax: 140, yStep: 20, tickSize: 14, xTickPad: 3,
        xTitle: 'Time（15min）', xTitleSize: 18, xTitlePad: 5.2,
        yTitle: 'Upper capcity of primary FM market(MW)', yTitleSize: 18, yTitleX: 41, yTitleDy: 0,
    },
    {
        key: 'C',
        series: { T1: C_T1, T2: C_T2, T3: C_T3, T4: C_T4, T5: C_T5, T6: C_T6, T7: C_T7, W1: C_W1, W2: C_W2, PV: C_PV, E1: C_E1, E2: C_E2, E3: C_E3, E4: C_E4 },
        canvas: [560, 362, 505, 358], padTop: 41.3, padRight: 3.3, yWidth: 80, xHeight: 43.3,
        xMin: -0.77, xMax: 97.4, yMax: 120, yStep: 20, tickSize: 14, xTickPad: 3,
        xTitle: 'Time（15min）', xTitleSize: 18, xTitlePad: 4.5,
        yTitle: 'Lower capcity of primary FM market(MW)', yTitleSize: 18, yTitleX: 43, yTitleDy: 4,
    },
    {
        key: 'D',
        series: { T1: D_T1, T2: D_T2, T3: D_T3, T4: D_T4, T5: D_T5, T6: D_T6, T7: D_T7, W1: D_W1, W2: D_W2, PV: D_PV, E1: D_E1, E2: D_E2, E3: D_E3, E4: D_E4 },
        canvas: [0, 724, 510, 355], padTop: 34.3, padRight: 13.3, yWidth: 75, xHeight: 48,
        xMin: -0.77, xMax: 97.5, yMax: 70, yStep: 10, tickSize: 14, xTickPad: 2.6,
        xTitle: 'Time/15min', xTitleSize: 18, xTitlePad: 9.2,
        yTitle: 'Upper capcity of secondary FM market(MW)', yTitleSize: 18, yTitleX: 40, yTitleDy: 17,
    },
    {
        key: 'E',
        series: { T1: E_T1, T2: E_T2, T3: E_T3, T4: E_T4, T5: E_T5, T6: E_T6, T7: E_T7, W1: E_W1, W2: E_W2, E1: E_E1, E2: E_E2, E3: E_E3, E4: E_E4 },
        canvas: [560, 724, 505, 355], padTop: 36, padRight: 4.3, yWidth: 80, xHeight: 47.3,
        xMin: -0.77, xMax: 97.6, yMax: 60, yStep: 10, tickSize: 14, xTickPad: 2.6,
        xTitle: 'Time/15min', xTitleSize: 18, xTitlePad: 8.5,
        yTitle: 'Lower capcity of secondary FM market(MW)', yTitleSize: 18, yTitleX: 43, yTitleDy: 12,
    },
];

type LegendSpec = {
    box: [number, number, number, number];
    rowTop: number;
    rowStep: number;
    swatchX: number[];
    textX: number[];
    swatch: [number, number];
    font: number;
};

const LEGENDS: LegendSpec[] = [
    { box: [347, 17, 146, 84], rowTop: 25, rowStep: 14.1, swatchX: [349.5, 396, 447.5], textX: [379, 425.5, 476.5], swatch: [26, 8.5], font: 13 },
    { box: [81.7, 408.3, 146.6, 81.7], rowTop: 415.3, rowStep: 14.2, swatchX: [84.3, 131, 183.3], textX: [115, 161.7, 213.3], swatch: [25.7, 8.5], font: 13 },
    { box: [941, 408.3, 120.7, 76.7], rowTop: 415, rowStep: 12.85, swatchX: [943.3, 980, 1021.7], textX: [967, 1003, 1045], swatch: [20.7, 7.5], font: 12.5 },
    { box: [81.7, 765, 140, 85], rowTop: 773.3, rowStep: 14, swatchX: [84.3, 131, 183.3], textX: [115, 161.7, 213.3], swatch: [25.7, 8.5], font: 13 },
    { box: [646.7, 765, 145.6, 85], rowTop: 774, rowStep: 14.1, swatchX: [649.3, 696, 747.7], textX: [680.7, 726.7, 778.3], swatch: [25.7, 8.5], font: 13 },
];

const LETTERS: [string, number, number][] = [
    ['A', 256.5, 19],
    ['B', 11.5, 389],
    ['C', 547, 387],
    ['D', 12, 751],
    ['E', 546.5, 749],
];

// inward ticks on all four sides, plus the rotated y title
const boxPlugin = {
    id: 'matlabBox',
    afterDatasetsDraw(chart: any, _args: any, opts: any) {
        const { ctx, chartArea: a } = chart;
        const xs = chart.scales.x;
        const ys = chart.scales.y;
        const L = Math.round(a.left) + 0.5;
        const R = Math.round(a.right) - 0.5;
        const T = Math.round(a.top) + 0.5;
        const B = Math.round(a.bottom) - 0.5;
        const len = 4;
        ctx.save();
        ctx.strokeStyle = '#5e5e5e';
        ctx.lineWidth = 1;
        ctx.beginPath();
        ctx.rect(L, T, R - L, B - T);
        for (const t of xs.ticks) {
            const px = Math.round(xs.getPixelForValue(t.value)) + 0.5;
            ctx.moveTo(px, B);
            ctx.lineTo(px, B - len);
            ctx.moveTo(px, T);
            ctx.lineTo(px, T + len);
        }
        for (const t of ys.ticks) {
            const py = Math.round(ys.getPixelForValue(t.value)) + 0.5;
            ctx.moveTo(L, py);
            ctx.lineTo(L + len, py);
            ctx.moveTo(R, py);
            ctx.lineTo(R - len, py);
        }
        ctx.stroke();

        ctx.translate(opts.x, (a.top + a.bottom) / 2 + opts.dy);
        ctx.rotate(-Math.PI / 2);
        ctx.fillStyle = '#1e1e1e';
        ctx.font = `italic ${opts.size}px ${SERIF}`;
        ctx.textAlign = 'center';
        ctx.textBaseline = 'middle';
        ctx.fillText(opts.text, 0, 0);
        ctx.restore();
    },
};

function StackedPanel({ panel }: { panel: Panel }) {
    const chartRef = useRef<HTMLCanvasElement>(null);
    const chartInstance = useRef<Chart | null>(null);

    useEffect(() => {
        if (!chartRef.current) return;
        if (chartInstance.current) chartInstance.current.destroy();
        const ctx = chartRef.current.getContext('2d');
        if (!ctx) return;

        const datasets = SERIES.filter((name) => panel.series[name]).map((name) => ({
            label: name,
            data: panel.series[name].map((v, i) => ({ x: i + 0.45, y: v === 0 ? null : v })),
            backgroundColor: COLORS[name],
            borderColor: 'rgba(40,40,40,0.9)',
            borderWidth: 0.75,
            barPercentage: 0.86,
            categoryPercentage: 1,
        }));

        const tickFont = { family: SERIF, size: panel.tickSize };

        chartInstance.current = new Chart(ctx, {
            type: 'bar',
            data: { datasets } as any,
            plugins: [boxPlugin],
            options: {
                animation: false,
                responsive: false,
                maintainAspectRatio: false,
                layout: { padding: { top: panel.padTop, right: panel.padRight, left: 0, bottom: 0 } },
                plugins: {
                    legend: { display: false },
                    tooltip: { enabled: false },
                    matlabBox: { x: panel.yTitleX, dy: panel.yTitleDy, size: panel.yTitleSize, text: panel.yTitle },
                } as any,
                scales: {
                    x: {
                        type: 'linear',
                        min: panel.xMin,
                        max: panel.xMax,
                        stacked: true,
                        offset: false,
                        grid: { display: false, drawTicks: false },
                        border: { display: false },
                        ticks: { font: tickFont, color: '#262626', padding: panel.xTickPad, autoSkip: false, maxRotation: 0 },
                        afterBuildTicks: (s: any) => {
                            s.ticks = X_TICKS.map((v) => ({ value: v }));
                        },
                        afterFit: (s: any) => {
                            s.height = panel.xHeight;
                        },
                        title: {
                            display: true,
                            text: panel.xTitle,
                            color: '#1e1e1e',
                            font: { family: SERIF, size: panel.xTitleSize, style: 'italic' },
                            padding: { top: 0, bottom: panel.xTitlePad },
                        },
                    },
                    y: {
                        type: 'linear',
                        min: 0,
                        max: panel.yMax,
                        stacked: true,
                        grid: { display: false, drawTicks: false },
                        border: { display: false },
                        ticks: { stepSize: panel.yStep, font: tickFont, color: '#262626', padding: 4 },
                        afterFit: (s: any) => {
                            s.width = panel.yWidth;
                        },
                    },
                },
            } as any,
        });

        return () => {
            if (chartInstance.current) {
                chartInstance.current.destroy();
                chartInstance.current = null;
            }
        };
    }, [panel]);

    const [left, top, w, h] = panel.canvas;
    return (
        <canvas
            ref={chartRef}
            width={w}
            height={h}
            style={{ position: 'absolute', left, top, width: w, height: h }}
        ></canvas>
    );
}

function LegendBox({ spec }: { spec: LegendSpec }) {
    const [bl, bt, bw, bh] = spec.box;
    const items: any[] = [];
    SERIES.forEach((name, k) => {
        const col = Math.floor(k / 6);
        const row = k % 6;
        const cy = spec.rowTop + row * spec.rowStep;
        items.push(
            <div
                key={'s' + name}
                style={{
                    position: 'absolute',
                    left: spec.swatchX[col],
                    top: cy - spec.swatch[1] / 2,
                    width: spec.swatch[0],
                    height: spec.swatch[1],
                    background: COLORS[name],
                    border: '1px solid #3c3c3c',
                    boxSizing: 'border-box',
                }}
            />,
            <div
                key={'t' + name}
                style={{
                    position: 'absolute',
                    left: spec.textX[col],
                    top: cy - 8,
                    height: 16,
                    lineHeight: '16px',
                    fontFamily: SERIF,
                    fontSize: spec.font,
                    color: '#1e1e1e',
                    whiteSpace: 'nowrap',
                }}
            >
                {name}
            </div>
        );
    });
    return (
        <>
            <div
                style={{
                    position: 'absolute',
                    left: bl,
                    top: bt,
                    width: bw,
                    height: bh,
                    background: '#fff',
                    border: '1px solid #8a8a8a',
                    boxSizing: 'border-box',
                }}
            />
            {items}
        </>
    );
}

export default function App() {
    return (
        <div
            style={{
                position: 'absolute',
                left: 0,
                top: 0,
                width: 1065,
                height: 1079,
                overflow: 'hidden',
                background: '#fff',
            }}
        >
            {PANELS.map((p) => (
                <StackedPanel key={p.key} panel={p} />
            ))}
            {LEGENDS.map((l, i) => (
                <LegendBox key={i} spec={l} />
            ))}
            {LETTERS.map(([t, cx, cy]) => (
                <div
                    key={t}
                    style={{
                        position: 'absolute',
                        left: cx - 9,
                        top: cy - 12,
                        height: 24,
                        lineHeight: '24px',
                        fontFamily: "'Liberation Sans', Arial, sans-serif",
                        fontWeight: 'bold',
                        fontSize: 21,
                        color: '#111',
                    }}
                >
                    {t}
                </div>
            ))}
        </div>
    );
}
